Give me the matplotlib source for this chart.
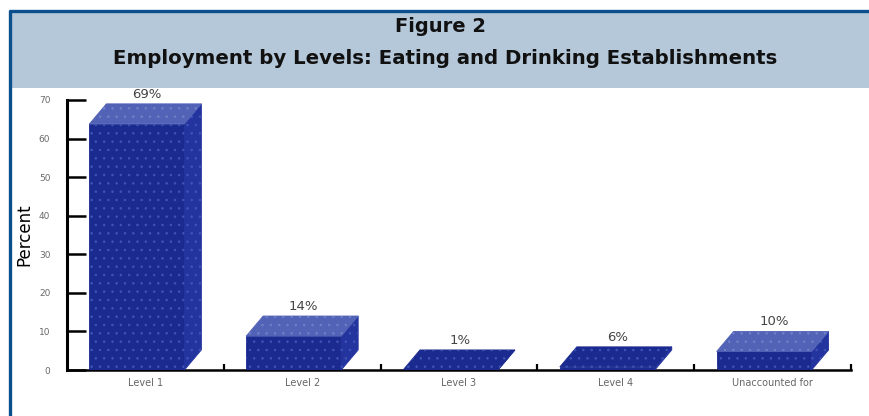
import matplotlib
matplotlib.use("Agg")
import matplotlib.pyplot as plt
from matplotlib.patches import Polygon, Rectangle
from matplotlib.lines import Line2D

plt.rcParams['font.family'] = ['DejaVu Sans']
plt.rcParams['hatch.linewidth'] = 0.6

categories = ["Level 1", "Level 2", "Level 3", "Level 4", "Unaccounted for"]
values = [69, 14, 1, 6, 10]
value_labels = ["69%", "14%", "1%", "6%", "10%"]
yticks = [0, 10, 20, 30, 40, 50, 60, 70]

title_line1 = "Figure 2"
title_line2 = "Employment by Levels: Eating and Drinking Establishments"

W, H = 869, 416
fig = plt.figure(figsize=(W / 100, H / 100), dpi=100)
fig.patch.set_facecolor('white')

# title band and border
band_top, band_bot = 13, 88
fig.add_artist(Rectangle((12 / W, 1 - band_bot / H), 1 - 12 / W, (band_bot - band_top) / H,
                         transform=fig.transFigure, facecolor='#b5c8da', edgecolor='none', zorder=0))
fig.add_artist(Line2D([9.5 / W, 9.5 / W], [0, 1 - 9.5 / H], transform=fig.transFigure,
                      color='#0b4f8c', linewidth=2.4, solid_capstyle='butt'))
fig.add_artist(Line2D([8.5 / W, 1], [1 - 10.5 / H, 1 - 10.5 / H], transform=fig.transFigure,
                      color='#0b4f8c', linewidth=2.4, solid_capstyle='butt'))
fig.text(440 / W, 1 - 27 / H, title_line1, ha='center', va='center', fontsize=14,
         fontweight='bold', color='#111111')
fig.text(445 / W, 1 - 59 / H, title_line2, ha='center', va='center', fontsize=14.2,
         fontweight='bold', color='#111111')

# axes
x0, x1 = 67, 851
y0, y1 = 370, 100
ax = fig.add_axes([x0 / W, 1 - y0 / H, (x1 - x0) / W, (y0 - y1) / H])
ax.set_xlim(-0.5, 4.5)
ax.set_ylim(0, 70)
ax.set_facecolor('none')

for s in ['top', 'right']:
    ax.spines[s].set_visible(False)
ax.spines['left'].set_linewidth(2.2)
ax.spines['bottom'].set_linewidth(1.8)
ax.spines['left'].set_zorder(5)
ax.spines['bottom'].set_zorder(1)

ax.set_yticks(yticks)
ax.set_yticklabels([str(t) for t in yticks], fontsize=6.5, color='#6a6a6a')
ax.tick_params(axis='y', direction='in', length=14, width=1.8, pad=12)
ax.set_xticks(range(len(categories)))
ax.set_xticklabels(categories, fontsize=7, color='#666666')
ax.tick_params(axis='x', which='major', length=0, pad=6)
ax.set_xticks([i + 0.5 for i in range(len(categories))], minor=True)
ax.tick_params(axis='x', which='minor', direction='in', length=4, width=1.6)

ax.set_ylabel("Percent", fontsize=12, color='#000000', labelpad=4)

# 3D bars
front_w = 0.606
dx = 0.108
dy = 5.2
front_c = '#1b2a8e'
top_c = '#5262b6'
side_c = '#24349e'
dot_c = '#3d55b5'


def face(pts, color, dots):
    ax.add_patch(Polygon(pts, closed=True, facecolor=color, edgecolor=color,
                         linewidth=0.6, zorder=3))
    ax.add_patch(Polygon(pts, closed=True, facecolor='none', edgecolor=dots,
                         linewidth=0, hatch='..', zorder=3.1))


for i, (v, lab) in enumerate(zip(values, value_labels)):
    left = i - (front_w + dx) / 2
    right = left + front_w
    ft = max(v - dy, 0)
    if ft > 0:
        face([(left, 0), (right, 0), (right, ft), (left, ft)], front_c, dot_c)
    face([(right, 0), (right + dx, dy), (right + dx, ft + dy), (right, ft)], side_c, dot_c)
    tc = top_c if v > dy * 1.5 else front_c
    face([(left, ft), (right, ft), (right + dx, ft + dy), (left + dx, ft + dy)], tc,
         '#6f80c8' if tc == top_c else dot_c)
    ax.text(i + 0.01, ft + dy + 0.8, lab, ha='center', va='bottom', fontsize=9.5,
            color='#444444', clip_on=False, zorder=4)

fig.savefig("out.png", dpi=100)
